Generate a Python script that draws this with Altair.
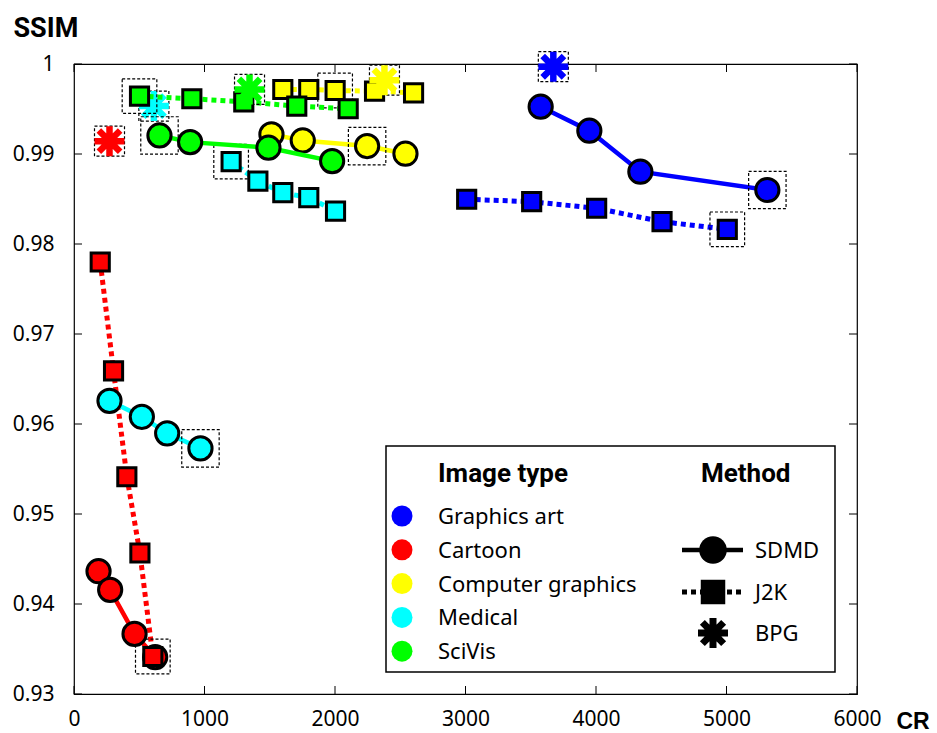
import altair as alt
import pandas as pd

# ---------------- data ----------------
types = ["Graphics art", "Cartoon", "Computer graphics", "Medical", "SciVis"]
colors = ["#0000ff", "#ff0000", "#ffff00", "#00ffff", "#00ff00"]

sdmd_cr = [[3576, 3949, 4340, 5313], [188, 277, 464, 622], [1513, 1753, 2246, 2540],
           [272, 520, 714, 969], [655, 890, 1490, 1978]]
sdmd_ssim = [[0.99526, 0.99259, 0.98803, 0.98600], [0.94364, 0.94157, 0.93668, 0.93410],
             [0.99218, 0.99151, 0.99088, 0.99003], [0.96257, 0.96080, 0.95896, 0.95729],
             [0.99206, 0.99132, 0.99070, 0.98921]]
j2k_cr = [[3009, 3507, 4005, 4506, 5006], [201, 303, 405, 505, 604], [1600, 1799, 2001, 2303, 2602],
          [1204, 1409, 1600, 1799, 2004], [502, 903, 1301, 1707, 2101]]
j2k_ssim = [[0.98497, 0.98470, 0.98397, 0.98248, 0.98163], [0.97800, 0.96590, 0.95414, 0.94567, 0.93417],
            [0.99717, 0.99717, 0.99706, 0.99698, 0.99680], [0.98915, 0.98699, 0.98570, 0.98515, 0.98366],
            [0.99643, 0.99614, 0.99580, 0.99532, 0.99503]]
bpg_cr = [3673, 272, 2379, 612, 1345]
bpg_ssim = [0.99970, 0.99143, 0.99820, 0.99532, 0.99717]
sdmd_boxed = [3, None, 2, 3, 0]
j2k_boxed = [4, 4, 2, 0, 0]

x_ticks = [0, 1000, 2000, 3000, 4000, 5000, 6000]
y_ticks = [0.93, 0.94, 0.95, 0.96, 0.97, 0.98, 0.99, 1.0]
methods = ["SDMD", "J2K", "BPG"]

# ---------------- helpers ----------------
W, H = 783, 630
FONT = "Noto Sans"
BOLD = "Roboto"
ASTER = "M0,-1L0,1M-1,0L1,0M-0.71,-0.71L0.71,0.71M-0.71,0.71L0.71,-0.71"


def X(field="cr"):
    return alt.X(f"{field}:Q", scale=alt.Scale(domain=[0, 6000], nice=False, zero=False),
                 axis=alt.Axis(values=x_ticks, format="d", title="CR", grid=False, domain=False, tickSize=0,
                               labelFlush=False, labelOverlap=False,
                               labelFont=FONT, labelFontSize=21, labelColor="black", labelPadding=14,
                               titleFont="Liberation Sans", titleFontSize=23, titleFontWeight="bold",
                               titleColor="black", titleAngle=0, titleAlign="left",
                               titleBaseline="alphabetic", titleX=822, titleY=34))


def Y(field="ssim"):
    return alt.Y(f"{field}:Q", scale=alt.Scale(domain=[0.93, 1.0], nice=False, zero=False),
                 axis=alt.Axis(values=y_ticks, format=".2~f", title="SSIM", grid=False, domain=False,
                               tickSize=0, labelFlush=False, labelOverlap=False,
                               labelFont=FONT, labelFontSize=21, labelColor="black",
                               labelPadding=20,
                               titleFont=BOLD, titleFontSize=27, titleFontWeight="bold",
                               titleColor="black", titleAngle=0, titleAlign="left",
                               titleBaseline="alphabetic", titleX=-61, titleY=-28))


rows = []
for ti, t in enumerate(types):
    for k, (c, s) in enumerate(zip(sdmd_cr[ti], sdmd_ssim[ti])):
        rows.append(dict(type=t, method="SDMD", cr=c, ssim=s, boxed=(sdmd_boxed[ti] == k)))
    for k, (c, s) in enumerate(zip(j2k_cr[ti], j2k_ssim[ti])):
        rows.append(dict(type=t, method="J2K", cr=c, ssim=s, boxed=(j2k_boxed[ti] == k)))
    rows.append(dict(type=t, method="BPG", cr=bpg_cr[ti], ssim=bpg_ssim[ti], boxed=True))
df = pd.DataFrame(rows)

layers = []

# inward ticks on all four sides
xt = pd.DataFrame({"v": x_ticks})
yt = pd.DataFrame({"v": y_ticks})
layers.append(alt.Chart(xt).mark_rule(color="black", strokeWidth=1).encode(
    x=X("v"), y=alt.value(0), y2=alt.value(8)))
layers.append(alt.Chart(xt).mark_rule(color="black", strokeWidth=1).encode(
    x=X("v"), y=alt.value(H), y2=alt.value(H - 8)))
layers.append(alt.Chart(yt).mark_rule(color="black", strokeWidth=1).encode(
    y=Y("v"), x=alt.value(0), x2=alt.value(8)))
layers.append(alt.Chart(yt).mark_rule(color="black", strokeWidth=1).encode(
    y=Y("v"), x=alt.value(W), x2=alt.value(W - 8)))

box_size = {"SDMD": 1400, "J2K": 1200, "BPG": 900}

for ti, t in enumerate(types):
    col = colors[ti]
    d = df[df["type"] == t]
    ds = d[d["method"] == "SDMD"]
    dj = d[d["method"] == "J2K"]
    db = d[d["method"] == "BPG"]
    layers.append(alt.Chart(ds).mark_line(color=col, strokeWidth=4.5).encode(x=X(), y=Y()))
    layers.append(alt.Chart(dj).mark_line(color=col, strokeWidth=5, strokeDash=[5, 4]).encode(x=X(), y=Y()))
    for m in methods:
        dbx = d[(d["method"] == m) & (d["boxed"])]
        if len(dbx):
            layers.append(alt.Chart(dbx).mark_point(shape="square", filled=False, stroke="black",
                                                    strokeWidth=1.2, strokeDash=[3, 2], opacity=1,
                                                    size=box_size[m]).encode(x=X(), y=Y()))
    layers.append(alt.Chart(ds).mark_point(shape="circle", filled=True, fill=col, stroke="black",
                                           strokeWidth=3, size=540, opacity=1).encode(x=X(), y=Y()))
    layers.append(alt.Chart(dj).mark_point(shape="square", filled=True, fill=col, stroke="black",
                                           strokeWidth=3, size=330, opacity=1).encode(x=X(), y=Y()))
    layers.append(alt.Chart(db).mark_point(shape=ASTER, filled=False, stroke=col, strokeWidth=6.5,
                                           strokeCap="butt", size=900, opacity=1).encode(x=X(), y=Y()))

# ---------------- custom legend ----------------
LX0, LY0, LX1, LY1 = 312, 382, 761, 608
one = pd.DataFrame({"a": [0]})
layers.append(alt.Chart(one).mark_rect(fill="white", stroke="black", strokeWidth=1.5).encode(
    x=alt.value(LX0), x2=alt.value(LX1), y=alt.value(LY0), y2=alt.value(LY1)))

hdr = pd.DataFrame({"label": ["Image type"]})
layers.append(alt.Chart(hdr).mark_text(font=BOLD, fontSize=26, fontWeight="bold", align="left",
                                       baseline="alphabetic", color="black").encode(
    text="label:N", x=alt.value(364), y=alt.value(418)))
hdr2 = pd.DataFrame({"label": ["Method"]})
layers.append(alt.Chart(hdr2).mark_text(font=BOLD, fontSize=26, fontWeight="bold", align="left",
                                        baseline="alphabetic", color="black").encode(
    text="label:N", x=alt.value(627), y=alt.value(418)))

for i, t in enumerate(types):
    yy = 452 + i * 33.8
    lab = pd.DataFrame({"label": [t]})
    layers.append(alt.Chart(lab).mark_point(shape="circle", filled=True, fill=colors[i], strokeWidth=0,
                                            size=440, opacity=1).encode(x=alt.value(328), y=alt.value(yy)))
    layers.append(alt.Chart(lab).mark_text(font=FONT, fontSize=22, align="left", baseline="middle",
                                           color="black").encode(
        text="label:N", x=alt.value(364), y=alt.value(yy + 1)))

m_y = {"SDMD": 486, "J2K": 528, "BPG": 569}
for m in methods:
    yy = m_y[m]
    lab = pd.DataFrame({"label": [m]})
    if m == "SDMD":
        layers.append(alt.Chart(lab).mark_rule(color="black", strokeWidth=4.5).encode(
            x=alt.value(608), x2=alt.value(669), y=alt.value(yy)))
        layers.append(alt.Chart(lab).mark_point(shape="circle", filled=True, fill="black", strokeWidth=0,
                                                size=760, opacity=1).encode(x=alt.value(639), y=alt.value(yy)))
    elif m == "J2K":
        layers.append(alt.Chart(lab).mark_rule(color="black", strokeWidth=5, strokeDash=[5, 4]).encode(
            x=alt.value(608), x2=alt.value(671), y=alt.value(yy)))
        layers.append(alt.Chart(lab).mark_point(shape="square", filled=True, fill="black", strokeWidth=0,
                                                size=600, opacity=1).encode(x=alt.value(639), y=alt.value(yy)))
    else:
        layers.append(alt.Chart(lab).mark_point(shape=ASTER, filled=False, stroke="black", strokeWidth=7,
                                                strokeCap="butt", size=900, opacity=1).encode(
            x=alt.value(639), y=alt.value(yy)))
    layers.append(alt.Chart(lab).mark_text(font=FONT, fontSize=22, align="left", baseline="middle",
                                           color="black").encode(
        text="label:N", x=alt.value(681), y=alt.value(yy + 1)))

chart = alt.layer(*layers).properties(
    width=W, height=H,
    autosize=alt.AutoSizeParams(type="none"),
    padding={"left": 74, "top": 64, "right": 80, "bottom": 39},
    background="white",
).configure_view(stroke="black", strokeWidth=1.2)

chart.save("out.html", embed_options={"renderer": "svg", "actions": False})
